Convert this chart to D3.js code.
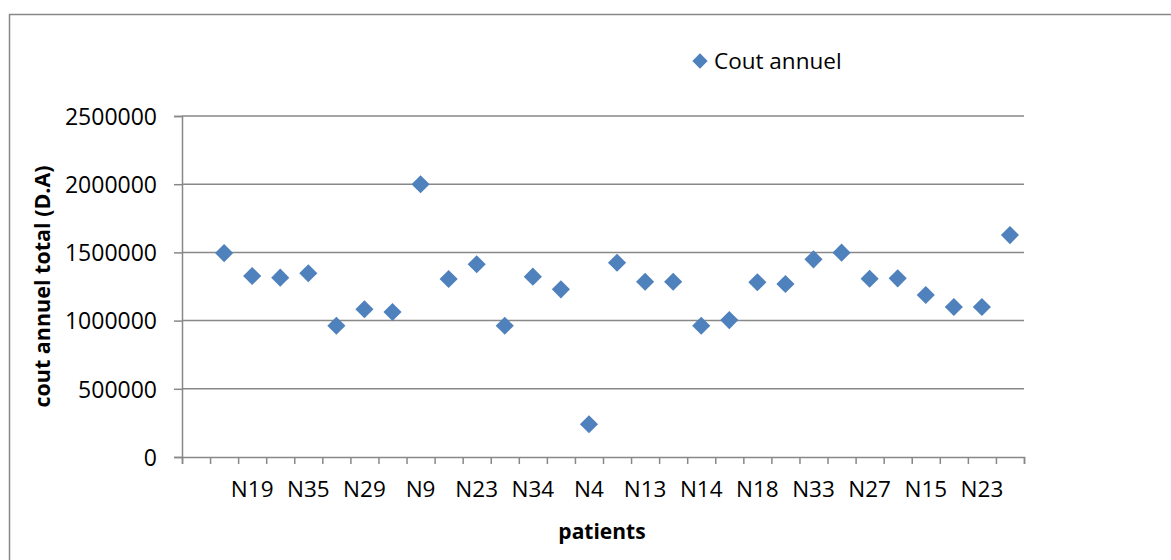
<!DOCTYPE html>
<html>
<head>
<meta charset="utf-8">
<script src="https://cdn.jsdelivr.net/npm/d3@7"></script>
<style>
  body { margin: 0; background: #fff; }
  text { font-family: "Open Sans", sans-serif; fill: #000; }
</style>
</head>
<body>
<div id="container"></div>
<script>
// patient labels (Excel shows every other one; hidden ones left blank)
const patients = ["", "", "N19", "", "N35", "", "N29", "", "N9", "", "N23", "", "N34", "", "N4", "",
  "N13", "", "N14", "", "N18", "", "N33", "", "N27", "", "N15", "", "N23", ""]

// annual cost per patient (first slot empty)
const coutAnnuel = [null, 1495000, 1327000, 1315000, 1347000, 962000, 1083000, 1063000, 2000000,
  1305000, 1413000, 962000, 1322000, 1229000, 240000, 1424000, 1285000, 1285000, 962000,
  1004000, 1281000, 1268000, 1449000, 1498000, 1307000, 1310000, 1188000, 1100000, 1100000, 1627000]

const yTicks = [0, 500000, 1000000, 1500000, 2000000, 2500000]

const width = 1171, height = 560
const margin = {top: 116, right: 147, bottom: 103, left: 182}
const blue = "#4F81BD", gray = "#888888"

let svg = d3.select("#container")
    .append("svg")
    .attr("width", width)
    .attr("height", height)

//chart border
svg.append("rect")
    .attr("x", 9.5).attr("y", 14.5)
    .attr("width", 1200).attr("height", 600)
    .attr("fill", "none")
    .attr("stroke", gray)
    .attr("stroke-width", 1.5)

let x = d3.scaleBand()
    .domain(d3.range(patients.length))
    .range([margin.left, width - margin.right])
    .paddingInner(0)

let xEdge = d3.scaleLinear()
    .domain([0, patients.length])
    .range([margin.left, width - margin.right])

let y = d3.scaleLinear()
    .domain([0, 2500000])
    .range([height - margin.bottom, margin.top])

//gridlines + y axis
let yAxis = svg.append("g")
    .attr("transform", `translate(${margin.left},0)`)
    .call(d3.axisLeft(y).tickValues(yTicks).tickSize(8).tickPadding(17).tickFormat(d3.format("d")))
yAxis.select(".domain").attr("stroke", gray).attr("stroke-width", 1.5)
yAxis.selectAll(".tick line").attr("stroke", gray).attr("stroke-width", 1.5)
yAxis.selectAll(".tick text").style("font-size", "23px").attr("dy", "0.36em")

svg.append("g")
    .selectAll("line")
    .data(yTicks.filter(d => d > 0))
    .enter().append("line")
    .attr("x1", margin.left).attr("x2", width - margin.right)
    .attr("y1", d => y(d)).attr("y2", d => y(d))
    .attr("stroke", gray)
    .attr("stroke-width", 1.5)

//x axis: tick marks between categories
let xAxis = svg.append("g")
    .attr("transform", `translate(0,${height - margin.bottom})`)
    .call(d3.axisBottom(xEdge).tickValues(d3.range(patients.length + 1)).tickSize(7).tickFormat(""))
xAxis.select(".domain").attr("stroke", gray).attr("stroke-width", 1.5)
xAxis.selectAll(".tick line").attr("stroke", gray).attr("stroke-width", 1.5)

//x axis labels
let xLabels = svg.append("g")
    .attr("transform", `translate(0,${height - margin.bottom})`)
    .call(d3.axisBottom(x).tickSize(0).tickPadding(24).tickFormat(i => patients[i]))
xLabels.select(".domain").remove()
xLabels.selectAll(".tick text").style("font-size", "22.5px")

//points
const diamond = d3.symbol().type(d3.symbolDiamond2).size(210)
svg.append("g")
    .selectAll("path")
    .data(coutAnnuel.map((v, i) => ({i, v})).filter(d => d.v != null))
    .enter().append("path")
    .attr("d", diamond)
    .attr("transform", d => `translate(${x(d.i) + x.bandwidth() / 2},${y(d.v)})`)
    .attr("fill", blue)

//axis titles
svg.append("text")
    .attr("transform", `translate(50,${(margin.top + height - margin.bottom) / 2}) rotate(-90)`)
    .attr("text-anchor", "middle")
    .style("font-size", "21.5px")
    .style("font-weight", "bold")
    .text("cout annuel total (D.A)")

svg.append("text")
    .attr("x", 602).attr("y", 539)
    .attr("text-anchor", "middle")
    .style("font-size", "21px")
    .style("font-weight", "bold")
    .text("patients")

//legend
let legend = svg.append("g").attr("transform", "translate(700,61)")
legend.append("path")
    .attr("d", d3.symbol().type(d3.symbolDiamond2).size(150))
    .attr("fill", blue)
legend.append("text")
    .attr("x", 14).attr("y", 8)
    .style("font-size", "22.5px")
    .text("Cout annuel")
</script>
</body>
</html>
